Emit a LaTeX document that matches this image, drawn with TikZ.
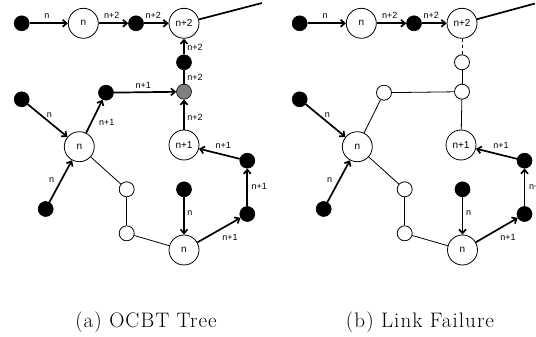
\documentclass[tikz,border=0pt]{standalone}
\usepackage{fontspec}
\newfontfamily\labfont{Liberation Sans}
\newfontfamily\capfont[LetterSpace=5]{Latin Modern Roman}
\usetikzlibrary{arrows.meta}
\begin{document}
\begin{tikzpicture}[x=1pt,y=-1pt,
  big/.style={circle,draw,line width=0.8pt,minimum size=30pt,inner sep=0pt,fill=white,font=\labfont\fontsize{10}{12}\selectfont},
  dot/.style={circle,draw,fill=black,line width=0.6pt,minimum size=15pt,inner sep=0pt},
  gdot/.style={circle,draw,fill=black!50,line width=0.6pt,minimum size=15pt,inner sep=0pt},
  sdot/.style={circle,draw,fill=white,line width=0.8pt,minimum size=15pt,inner sep=0pt},
  arr/.style={line width=1.7pt,-{Straight Barb[length=4pt,width=7pt]}},
  thk/.style={line width=1.7pt},
  ln/.style={line width=0.8pt},
  lbl/.style={font=\labfont\fontsize{9}{10}\selectfont,inner sep=0pt},
  captxt/.style={font=\capfont\fontsize{21}{25}\selectfont,inner sep=0pt}]
\useasboundingbox (0,0) rectangle (536,337);
% ---------- panel (a)
\node[dot] (aA) at (21.7,23.3) {};
\node[big] (aB) at (83.3,23.3) {n};
\node[dot] (aC) at (136,23.3) {};
\node[big] (aD) at (184,23.3) {n+2};
\coordinate (aX) at (262,3);
\node[dot] (aE) at (184,62.3) {};
\node[gdot] (aF) at (184,91.7) {};
\node[dot] (aG) at (106,92.7) {};
\node[dot] (aH) at (21.7,99.3) {};
\node[big] (aI) at (79.3,146.7) {n};
\node[big] (aJ) at (184,145) {n+1};
\node[dot] (aK) at (247.3,160.7) {};
\node[dot] (aL) at (45.7,209) {};
\node[sdot] (aM) at (126.7,189.3) {};
\node[sdot] (aN) at (126.7,233.3) {};
\node[dot] (aO) at (184,189.3) {};
\node[dot] (aP) at (247.3,214) {};
\node[big] (aQ) at (184,250) {n};
\draw[arr] (aA) -- (aB);
\draw[arr] (aB) -- (aC);
\draw[arr] (aC) -- (aD);
\draw[thk] (aD) -- (aX);
\draw[arr] (aE) -- (aD);
\draw[thk] (aF) -- (aE);
\draw[arr] (aG) -- (aF);
\draw[arr] (aJ) -- (aF);
\draw[arr] (aH) -- (aI);
\draw[arr] (aI) -- (aG);
\draw[arr] (aL) -- (aI);
\draw[ln] (aI) -- (aM);
\draw[ln] (aM) -- (aN);
\draw[ln] (aN) -- (aQ);
\draw[arr] (aO) -- (aQ);
\draw[arr] (aQ) -- (aP);
\draw[arr] (aP) -- (aK);
\draw[arr] (aK) -- (aJ);
\node[lbl] (al1) at (47,15.7) {n};
\node[lbl] (al2) at (111.7,15.7) {n+2};
\node[lbl] (al3) at (153.3,15.7) {n+2};
\node[lbl] (al4) at (195,47.3) {n+2};
\node[lbl] (al5) at (195,77.3) {n+2};
\node[lbl] (al6) at (143.3,85) {n+1};
\node[lbl] (al7) at (195,117.3) {n+2};
\node[lbl] (al8) at (49.3,115) {n};
\node[lbl] (al9) at (106.7,122.3) {n+1};
\node[lbl] (al10) at (51.7,180) {n};
\node[lbl] (al11) at (190,212.7) {n};
\node[lbl] (al12) at (230,237.3) {n+1};
\node[lbl,anchor=west] (al13) at (251.5,186) {n+1};
\node[lbl] (al14) at (223.3,145) {n+1};
\node[captxt] (acap) at (146,322) {(a) OCBT Tree};
% ---------- panel (b)
\begin{scope}[xshift=278pt]
\node[dot] (bA) at (21.7,23.3) {};
\node[big] (bB) at (83.3,23.3) {n};
\node[dot] (bC) at (136,23.3) {};
\node[big] (bD) at (184,23.3) {n+2};
\coordinate (bX) at (257,3.5);
\node[sdot] (bE) at (184,62.3) {};
\node[sdot] (bF) at (184,91.7) {};
\node[sdot] (bG) at (106,92.7) {};
\node[dot] (bH) at (21.7,99.3) {};
\node[big] (bI) at (79.3,146.7) {n};
\node[big] (bJ) at (183,145) {n+1};
\node[dot] (bK) at (246.5,160.7) {};
\node[dot] (bL) at (45.7,209) {};
\node[sdot] (bM) at (126.7,189.3) {};
\node[sdot] (bN) at (126.7,233.3) {};
\node[dot] (bO) at (184.5,189.3) {};
\node[dot] (bP) at (246.5,214) {};
\node[big] (bQ) at (184.5,250) {n};
\draw[arr] (bA) -- (bB);
\draw[arr] (bB) -- (bC);
\draw[arr] (bC) -- (bD);
\draw[thk] (bD) -- (bX);
\draw[ln,dashed] (bD) -- (bE);
\draw[ln] (bE) -- (bF);
\draw[ln] (bG) -- (bF);
\draw[ln] (bJ) -- (bF);
\draw[arr] (bH) -- (bI);
\draw[ln] (bI) -- (bG);
\draw[arr] (bL) -- (bI);
\draw[ln] (bI) -- (bM);
\draw[ln] (bM) -- (bN);
\draw[ln] (bN) -- (bQ);
\draw[arr] (bO) -- (bQ);
\draw[arr] (bQ) -- (bP);
\draw[arr] (bP) -- (bK);
\draw[arr] (bK) -- (bJ);
\node[lbl] (bl1) at (47,15.7) {n};
\node[lbl] (bl2) at (111.7,15.7) {n+2};
\node[lbl] (bl3) at (153.3,15.7) {n+2};
\node[lbl] (bl8) at (49.3,115) {n};
\node[lbl] (bl10) at (51.7,180) {n};
\node[lbl] (bl11) at (190.5,212.7) {n};
\node[lbl] (bl12) at (230,237.3) {n+1};
\node[lbl,anchor=west] (bl13) at (251,186) {n+1};
\node[lbl] (bl14) at (223,145) {n+1};
\end{scope}
\node[captxt] (bcap) at (420,322) {(b) Link Failure};
\end{tikzpicture}
\end{document}
